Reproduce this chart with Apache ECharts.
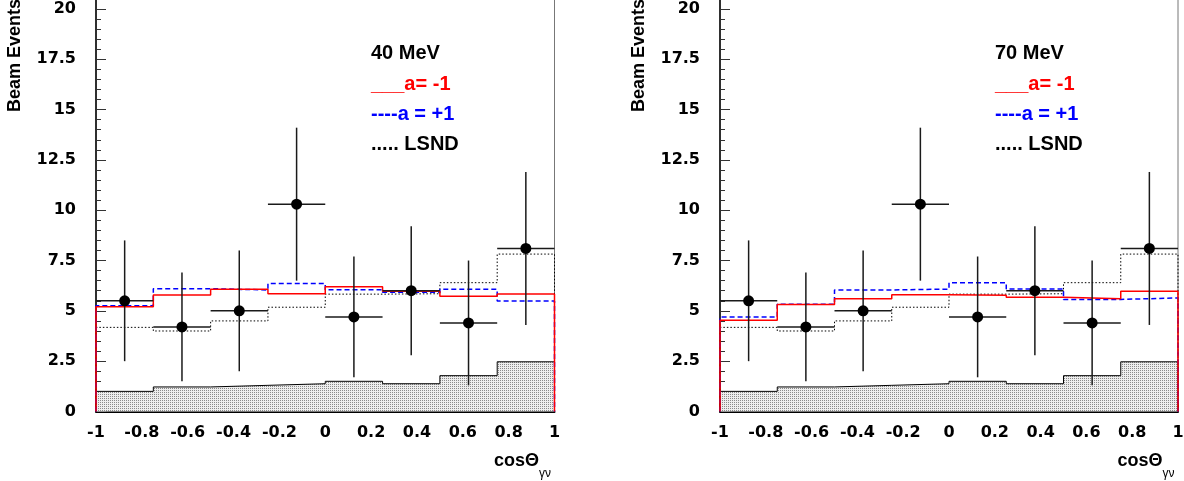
<!DOCTYPE html>
<html>
<head>
<meta charset="utf-8">
<script src="https://cdn.jsdelivr.net/npm/echarts@6/dist/echarts.min.js"></script>
<style>
html,body{margin:0;padding:0;background:#fff;}
#c{width:1184px;height:481px;}
</style>
</head>
<body>
<div id="c"></div>
<script>
// ---- data ----
const binEdges = [-1, -0.75, -0.5, -0.25, 0, 0.25, 0.5, 0.75, 1];
const panelTitles = ['40 MeV', '70 MeV'];
const legendLabels = ['___a= -1', '----a = +1', '..... LSND'];
const dataValues = [5.5, 4.2, 5.0, 10.3, 4.7, 6.0, 4.4, 8.1];
const dataErrors = [3.0, 2.7, 3.0, 3.8, 3.0, 3.2, 3.1, 3.8];
const background = [1.0, 1.22, 1.3, 1.38, 1.5, 1.38, 1.78, 2.47];
const lsnd = [4.18, 4.0, 4.5, 5.18, 5.83, 5.85, 6.4, 7.82];
const aMinus40 = [5.2, 5.79, 6.07, 5.85, 6.2, 5.97, 5.72, 5.84];
const aPlus40 = [5.25, 6.1, 6.04, 6.36, 6.05, 5.93, 6.07, 5.49];
const aMinus70 = [4.53, 5.32, 5.6, 5.8, 5.77, 5.67, 5.6, 5.97];
const aPlus70 = [4.69, 5.33, 6.04, 6.08, 6.4, 6.08, 5.57, 5.64];
const yTickStep = 2.5;
const xTickStep = 0.2;

// ---- helpers ----
function stepData(vals) {
  const d = [[binEdges[0], 0]];
  vals.forEach((v, i) => { d.push([binEdges[i], v]); d.push([binEdges[i + 1], v]); });
  d.push([binEdges[binEdges.length - 1], 0]);
  return d;
}
function pointData() {
  return dataValues.map((v, i) => {
    const c = (binEdges[i] + binEdges[i + 1]) / 2;
    const hw = (binEdges[i + 1] - binEdges[i]) / 2;
    return [c, v, dataErrors[i], hw];
  });
}
const pat = document.createElement('canvas');
pat.width = 2; pat.height = 2;
(function () {
  const g = pat.getContext('2d');
  g.fillStyle = '#eeeeee'; g.fillRect(0, 0, 2, 2);
  g.fillStyle = '#8a8a8a'; g.fillRect(0, 0, 1, 1);
})();

const chart = echarts.init(document.getElementById('c'), null, { renderer: 'canvas' });

const grids = [
  { left: 96, right: 629.5, top: -41.4, bottom: 69.5 },
  { left: 720, right: 6, top: -41.4, bottom: 69.5 }
];
const tickFont = { fontFamily: 'DejaVu Sans', fontWeight: 'bold', fontSize: 16, color: '#000' };

const xAxes = [], yAxes = [], series = [], graphics = [];
const panelSets = [[aMinus40, aPlus40], [aMinus70, aPlus70]];

grids.forEach((g, k) => {
  g.show = true; g.borderColor = '#777'; g.borderWidth = 1; g.backgroundColor = 'transparent';
  g.containLabel = false; g.outerBoundsMode = 'none';
  xAxes.push({
    type: 'value', gridIndex: k, min: -1, max: 1, interval: xTickStep,
    axisLine: { show: true, onZero: false, lineStyle: { color: '#000', width: 2 } },
    axisTick: { show: true, inside: true, length: 8, lineStyle: { color: '#333', width: 1 } },
    minorTick: { show: true, splitNumber: 4, length: 4, lineStyle: { color: '#333', width: 1 } },
    splitLine: { show: false },
    axisLabel: Object.assign({ margin: 13 }, tickFont)
  });
  yAxes.push({
    type: 'value', gridIndex: k, min: 0, max: 22.5, interval: yTickStep,
    axisLine: { show: true, onZero: false, lineStyle: { color: '#000', width: 1.5 } },
    axisTick: { show: true, inside: true, length: 10, lineStyle: { color: '#333', width: 1 } },
    minorTick: { show: true, splitNumber: 5, length: 5, lineStyle: { color: '#333', width: 1 } },
    splitLine: { show: false },
    axisLabel: Object.assign({ margin: 20 }, tickFont)
  });
  const [red, blue] = panelSets[k];
  series.push({
    type: 'line', xAxisIndex: k, yAxisIndex: k, data: stepData(background), showSymbol: false,
    lineStyle: { color: '#000', width: 1 }, areaStyle: { color: { image: pat, repeat: 'repeat' }, opacity: 1 },
    silent: true, z: 1
  });
  series.push({
    type: 'line', xAxisIndex: k, yAxisIndex: k, data: stepData(lsnd), showSymbol: false,
    lineStyle: { color: '#000', width: 1, type: [1.5, 2] }, silent: true, z: 2
  });
  series.push({
    type: 'line', xAxisIndex: k, yAxisIndex: k, data: stepData(blue), showSymbol: false,
    lineStyle: { color: '#0000ff', width: 1.5, type: [5, 3] }, silent: true, z: 3
  });
  series.push({
    type: 'line', xAxisIndex: k, yAxisIndex: k, data: stepData(red), showSymbol: false,
    lineStyle: { color: '#ff0000', width: 1.5 }, silent: true, z: 4
  });
  series.push({
    type: 'custom', xAxisIndex: k, yAxisIndex: k, data: pointData(), z: 5, silent: true,
    renderItem: function (params, api) {
      const x = api.value(0), y = api.value(1), e = api.value(2), hw = api.value(3);
      const l = api.coord([x - hw, y]), r = api.coord([x + hw, y]);
      const t = api.coord([x, y + e]), b = api.coord([x, y - e]);
      const st = { stroke: '#1a1a1a', lineWidth: 1.5 };
      return { type: 'group', children: [
        { type: 'line', shape: { x1: l[0], y1: l[1], x2: r[0], y2: r[1] }, style: st },
        { type: 'line', shape: { x1: t[0], y1: t[1], x2: b[0], y2: b[1] }, style: st }
      ] };
    }
  });
  series.push({
    type: 'scatter', xAxisIndex: k, yAxisIndex: k, data: pointData().map(p => [p[0], p[1]]),
    symbol: 'circle', symbolSize: 11, itemStyle: { color: '#000', opacity: 1 }, silent: true, z: 6
  });

  const x0 = k === 0 ? 96 : 720;
  const x1 = k === 0 ? 554.5 : 1178;
  const legCol = ['#ff0000', '#0000ff', '#000000'];
  graphics.push({ type: 'text', x: x0 + 275, y: 53, style: { text: panelTitles[k], fill: '#000',
    font: 'bold 20px "Liberation Sans", Arial, sans-serif', textVerticalAlign: 'middle' } });
  legendLabels.forEach((t, i) => {
    graphics.push({ type: 'text', x: x0 + 275, y: 84 + i * 30, style: { text: t, fill: legCol[i],
      font: 'bold 20px "Liberation Sans", Arial, sans-serif', textVerticalAlign: 'middle' } });
  });
  graphics.push({ type: 'text', x: x0 - 80.5, y: 112, rotation: Math.PI / 2, style: { text: 'Beam Events', fill: '#000',
    font: 'bold 18px "Liberation Sans", Arial, sans-serif', textAlign: 'left', textVerticalAlign: 'middle' } });
  graphics.push({ type: 'text', x: x1 - 15.5, y: 461.5, style: { text: 'cosΘ', fill: '#000',
    font: 'bold 18px "Liberation Sans", Arial, sans-serif', textAlign: 'right', textVerticalAlign: 'middle' } });
  graphics.push({ type: 'text', x: x1 - 15.5, y: 473.5, style: { text: 'γν', fill: '#000',
    font: '12px "Liberation Sans", Arial, sans-serif', textAlign: 'left', textVerticalAlign: 'middle' } });
});

chart.setOption({
  animation: false,
  backgroundColor: '#ffffff',
  grid: grids,
  xAxis: xAxes,
  yAxis: yAxes,
  series: series,
  graphic: graphics
});
</script>
</body>
</html>
